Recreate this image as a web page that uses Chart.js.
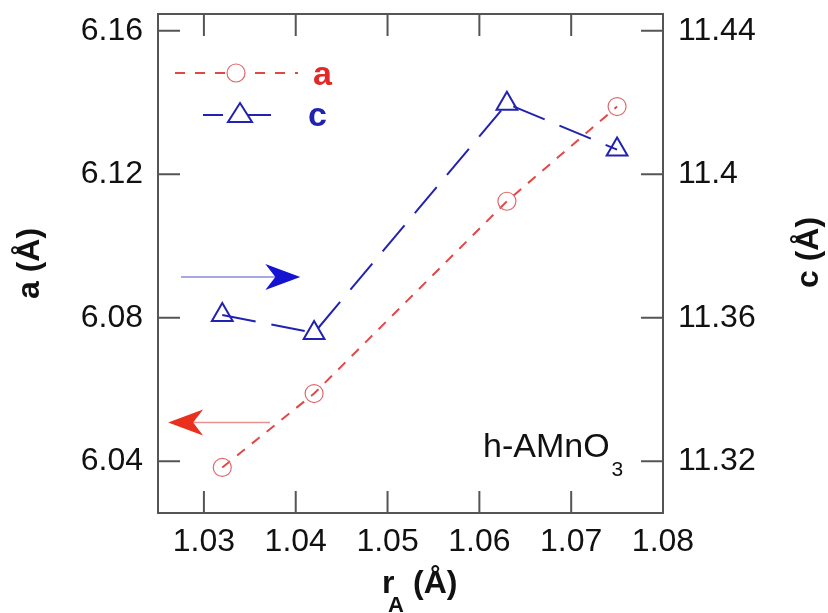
<!DOCTYPE html>
<html>
<head>
<meta charset="utf-8">
<script src="https://cdn.jsdelivr.net/npm/chart.js@4.4.1/dist/chart.umd.min.js"></script>
<style>
  html, body { margin: 0; padding: 0; background: #fff; }
</style>
</head>
<body>
<canvas id="chart" width="828" height="613"></canvas>
<script>
/* ---- Data ---- */
const rA = [1.032, 1.042, 1.063, 1.075];
const aValues = [6.0383, 6.0589, 6.1125, 6.1389];
const cValues = [11.3608, 11.3558, 11.4197, 11.4069];

const xTicks = [1.03, 1.04, 1.05, 1.06, 1.07, 1.08];
const aTicks = [6.04, 6.08, 6.12, 6.16];
const cTicks = [11.32, 11.36, 11.4, 11.44];

// annotation arrows: which axis they point at
const cArrow = { from: 1.0275, to: 1.0405, value: 11.3714 };
const aArrow = { from: 1.0372, to: 1.0261, value: 6.0508 };

const FONT = "'Liberation Sans', Arial, Helvetica, sans-serif";
const RED = "#e04848";
const RED_MARK = "#e06a6a";
const BLUE = "#2222b0";

/* ---- Frame with inward ticks ---- */
const frameTicks = {
  id: "frameTicks",
  afterDraw(chart) {
    const { ctx, chartArea: ca, scales } = chart;
    const tl = 22;
    ctx.save();
    ctx.strokeStyle = "#555";
    ctx.lineWidth = 2;
    ctx.strokeRect(ca.left, ca.top, ca.right - ca.left, ca.bottom - ca.top);
    ctx.beginPath();
    xTicks.forEach((v) => {
      const px = scales.x.getPixelForValue(v);
      ctx.moveTo(px, ca.bottom); ctx.lineTo(px, ca.bottom - tl);
      ctx.moveTo(px, ca.top); ctx.lineTo(px, ca.top + tl);
    });
    aTicks.forEach((v) => {
      const py = scales.yA.getPixelForValue(v);
      ctx.moveTo(ca.left, py); ctx.lineTo(ca.left + tl, py);
    });
    cTicks.forEach((v) => {
      const py = scales.yC.getPixelForValue(v);
      ctx.moveTo(ca.right, py); ctx.lineTo(ca.right - tl, py);
    });
    ctx.stroke();
    ctx.restore();
  },
};

/* ---- Titles, legend, arrows, label ---- */
function drawArrow(ctx, x0, x1, y, lineColor, headColor) {
  const dir = Math.sign(x1 - x0);
  const len = 35, half = 13, notch = 10;
  ctx.strokeStyle = lineColor;
  ctx.lineWidth = 1.5;
  ctx.beginPath();
  ctx.moveTo(x0, y);
  ctx.lineTo(x1 - dir * notch, y);
  ctx.stroke();
  ctx.fillStyle = headColor;
  ctx.beginPath();
  ctx.moveTo(x1, y);
  ctx.lineTo(x1 - dir * len, y - half);
  ctx.lineTo(x1 - dir * (len - notch), y);
  ctx.lineTo(x1 - dir * len, y + half);
  ctx.closePath();
  ctx.fill();
}

const decorations = {
  id: "decorations",
  afterDraw(chart) {
    const { ctx, chartArea: ca, scales } = chart;
    ctx.save();

    // axis titles
    ctx.fillStyle = "#111";
    ctx.font = `bold 32px ${FONT}`;
    ctx.textAlign = "center";
    ctx.textBaseline = "middle";
    ctx.save();
    ctx.translate(30, (ca.top + ca.bottom) / 2);
    ctx.rotate(-Math.PI / 2);
    ctx.fillText("a (\u00c5)", 0, 0);
    ctx.restore();
    ctx.save();
    ctx.translate(809, (ca.top + ca.bottom) / 2 - 11);
    ctx.rotate(-Math.PI / 2);
    ctx.fillText("c (\u00c5)", 0, 0);
    ctx.restore();

    ctx.textAlign = "left";
    ctx.textBaseline = "alphabetic";
    ctx.font = `bold 32px ${FONT}`;
    ctx.fillText("r", 382, 593);
    ctx.font = `bold 22px ${FONT}`;
    ctx.fillText("A", 388, 612);
    ctx.font = `bold 32px ${FONT}`;
    ctx.fillText("(\u00c5)", 413, 593);

    // compound label
    ctx.font = `34px ${FONT}`;
    const main = "h-AMnO";
    ctx.fillText(main, 483, 457);
    const w = ctx.measureText(main).width;
    ctx.font = `21px ${FONT}`;
    ctx.fillText("3", 483 + w + 2, 476);

    // legend
    const lx = ca.left;
    ctx.lineWidth = 2;
    ctx.strokeStyle = RED;
    ctx.setLineDash([10, 10]);
    ctx.beginPath();
    ctx.moveTo(lx + 17, 73); ctx.lineTo(lx + 140, 73);
    ctx.stroke();
    ctx.strokeStyle = BLUE;
    ctx.setLineDash([20, 20, 28, 20]);
    ctx.beginPath();
    ctx.moveTo(lx + 45, 115); ctx.lineTo(lx + 133, 115);
    ctx.stroke();
    ctx.setLineDash([]);
    ctx.fillStyle = "#fff";
    ctx.strokeStyle = RED_MARK;
    ctx.lineWidth = 1.2;
    ctx.beginPath();
    ctx.arc(lx + 78, 73, 9, 0, Math.PI * 2);
    ctx.fill(); ctx.stroke();
    ctx.strokeStyle = BLUE;
    ctx.lineWidth = 2;
    ctx.beginPath();
    ctx.moveTo(lx + 82, 103);
    ctx.lineTo(lx + 94, 122);
    ctx.lineTo(lx + 70, 122);
    ctx.closePath();
    ctx.fill(); ctx.stroke();
    ctx.font = `bold 34px ${FONT}`;
    ctx.fillStyle = "#e02a2a";
    ctx.fillText("a", lx + 155, 85);
    ctx.fillStyle = BLUE;
    ctx.fillText("c", lx + 150, 126);

    // arrows
    drawArrow(ctx, scales.x.getPixelForValue(cArrow.from), scales.x.getPixelForValue(cArrow.to),
      scales.yC.getPixelForValue(cArrow.value), "#8a8ad8", "#1414d0");
    drawArrow(ctx, scales.x.getPixelForValue(aArrow.from), scales.x.getPixelForValue(aArrow.to),
      scales.yA.getPixelForValue(aArrow.value), "#e89090", "#e8301c");

    ctx.restore();
  },
};

/* ---- Chart ---- */
const tickFont = { family: FONT, size: 32 };
const noPadY = (s) => { s.paddingTop = 0; s.paddingBottom = 0; };

new Chart(document.getElementById("chart"), {
  type: "scatter",
  data: {
    datasets: [
      {
        label: "a",
        data: rA.map((x, i) => ({ x, y: aValues[i] })),
        yAxisID: "yA",
        showLine: true,
        borderColor: RED,
        borderWidth: 2,
        borderDash: [10, 9],
        pointStyle: "circle",
        pointRadius: 9,
        pointBorderWidth: 1.2,
        pointBorderColor: RED_MARK,
        pointBackgroundColor: "rgba(255,255,255,0)",
      },
      {
        label: "c",
        data: rA.map((x, i) => ({ x, y: cValues[i] })),
        yAxisID: "yC",
        showLine: true,
        borderColor: BLUE,
        borderWidth: 2,
        borderDash: [34, 16],
        pointStyle: "triangle",
        pointRadius: 12,
        pointBorderWidth: 2,
        pointBorderColor: BLUE,
        pointBackgroundColor: "rgba(255,255,255,0)",
      },
    ],
  },
  options: {
    responsive: false,
    animation: false,
    layout: { padding: { top: 12, left: 0, right: 0, bottom: 0 } },
    plugins: { legend: { display: false }, tooltip: { enabled: false } },
    scales: {
      x: {
        type: "linear",
        min: 1.025,
        max: 1.08,
        grid: { display: false, drawTicks: false },
        border: { display: false },
        ticks: { font: tickFont, color: "#111", padding: 10, maxRotation: 0, callback: (v) => String(v) },
        afterBuildTicks: (s) => { s.ticks = xTicks.map((v) => ({ value: v })); },
        afterFit: (s) => { s.height = 100; s.paddingLeft = 0; s.paddingRight = 0; },
      },
      yA: {
        type: "linear",
        position: "left",
        min: 6.0256,
        max: 6.1647,
        grid: { display: false, drawTicks: false },
        border: { display: false },
        ticks: { font: tickFont, color: "#111", padding: 15, callback: (v) => String(v) },
        afterBuildTicks: (s) => { s.ticks = aTicks.map((v) => ({ value: v })); },
        afterFit: (s) => { s.width = 158; noPadY(s); },
      },
      yC: {
        type: "linear",
        position: "right",
        min: 11.3056,
        max: 11.4447,
        grid: { display: false, drawTicks: false },
        border: { display: false },
        ticks: { font: tickFont, color: "#111", padding: 15, callback: (v) => String(v) },
        afterBuildTicks: (s) => { s.ticks = cTicks.map((v) => ({ value: v })); },
        afterFit: (s) => { s.width = 165; noPadY(s); },
      },
    },
  },
  plugins: [frameTicks, decorations],
});
</script>
</body>
</html>
